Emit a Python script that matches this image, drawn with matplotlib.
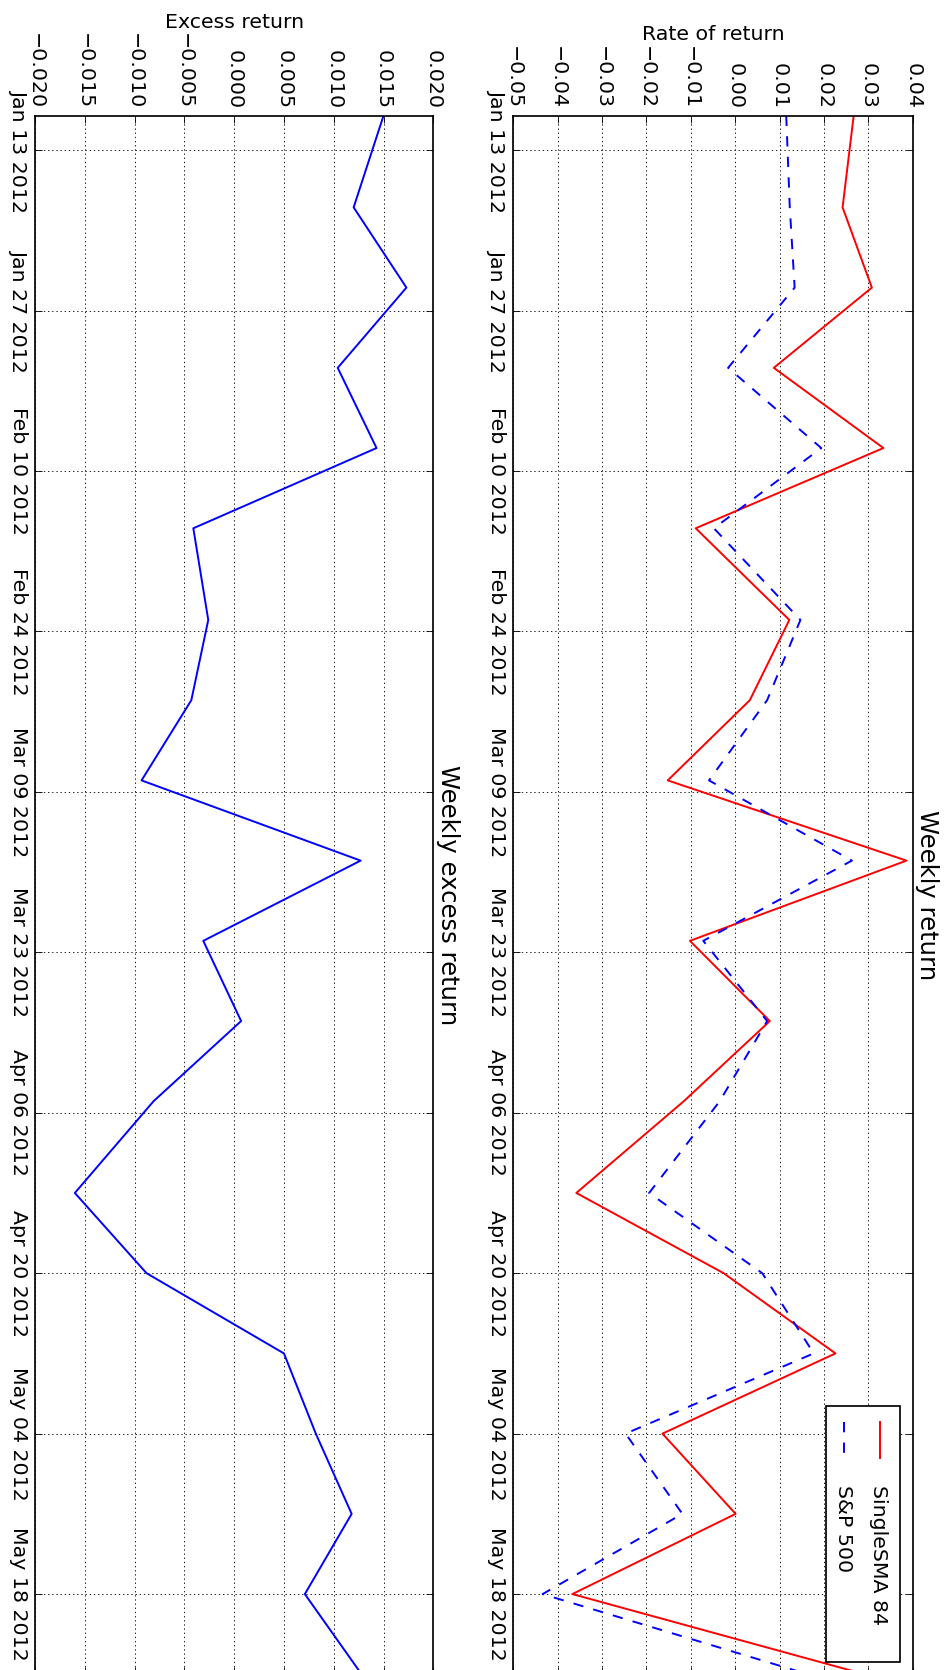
import matplotlib
matplotlib.use('Agg')
import matplotlib.pyplot as plt
import matplotlib.dates as mdates
import matplotlib.ticker as mticker
from matplotlib.patches import Rectangle
from matplotlib.lines import Line2D
import pandas as pd

# ---------------- data ----------------
dates = pd.to_datetime([
    '2012-01-10', '2012-01-18', '2012-01-25', '2012-02-01', '2012-02-08',
    '2012-02-15', '2012-02-23', '2012-03-01', '2012-03-08', '2012-03-15',
    '2012-03-22', '2012-03-29', '2012-04-05', '2012-04-13', '2012-04-20',
    '2012-04-27', '2012-05-04', '2012-05-11', '2012-05-18', '2012-05-25'])

strategy_returns = [0.0267, 0.0242, 0.0308, 0.0087, 0.0334,
                    -0.0089, 0.0122, 0.0033, -0.0152, 0.0386,
                    -0.0102, 0.0078, -0.0116, -0.0358, -0.0026,
                    0.0226, -0.0164, 0.0001, -0.0367, 0.0292]

sp500_returns = [0.0115, 0.0123, 0.0134, -0.0016, 0.0194,
                 -0.0048, 0.0147, 0.0072, -0.0059, 0.0263,
                 -0.0072, 0.0072, -0.0035, -0.0194, 0.0061,
                 0.0177, -0.0247, -0.0119, -0.0434, 0.0164]

excess_returns = [0.0150, 0.0120, 0.0173, 0.0104, 0.0143,
                  -0.0041, -0.0026, -0.0043, -0.0093, 0.0127,
                  -0.0031, 0.0007, -0.0081, -0.0160, -0.0088,
                  0.0050, 0.0082, 0.0118, 0.0071, 0.0128]

series_labels = ['SingleSMA 84', 'S&P 500']
date_ticks = pd.to_datetime(['2012-01-13', '2012-01-27', '2012-02-10', '2012-02-24',
                             '2012-03-09', '2012-03-23', '2012-04-06', '2012-04-20',
                             '2012-05-04', '2012-05-18'])
return_ticks = [-0.05, -0.04, -0.03, -0.02, -0.01, 0.00, 0.01, 0.02, 0.03, 0.04]
excess_ticks = [-0.020, -0.015, -0.010, -0.005, 0.000, 0.005, 0.010, 0.015, 0.020]

# ---------------- style ----------------
W, H = 945, 1670
S = 1.23  # scale factor (original rendered at ~123 dpi)
plt.rcParams.update({
    'font.family': ['DejaVu Sans'],
    'xtick.direction': 'in', 'ytick.direction': 'in',
    'xtick.top': True, 'xtick.bottom': True,
    'ytick.left': True, 'ytick.right': True,
    'xtick.major.size': 4 * S, 'ytick.major.size': 4 * S,
    'xtick.major.width': 0.5 * S, 'ytick.major.width': 0.5 * S,
    'xtick.major.pad': 4 * S, 'ytick.major.pad': 4 * S,
    'xtick.labelsize': 12 * S, 'ytick.labelsize': 12 * S,
    'axes.linewidth': 1.0 * S,
    'lines.scale_dashes': False,
    'figure.facecolor': 'white',
    'axes.facecolor': 'white',
})

TICK_FS = 12 * S
LABEL_FS = 12 * S
TITLE_FS = 14.2 * S
LW = 1.0 * S
DATA_LW = 1.4


def fx(x):
    return x / W


def fy(y):
    return 1 - y / H


fig = plt.figure(figsize=(W / 100, H / 100), dpi=100)

ax_top = 115.7
ax_bot = 1674.3
ax_h_px = ax_bot - ax_top

ax_ret = fig.add_axes([fx(513.3), fy(ax_bot), (912.7 - 513.3) / W, ax_h_px / H])
ax_exc = fig.add_axes([fx(35.0), fy(ax_bot), (433.3 - 35.0) / W, ax_h_px / H])

ynum = mdates.date2num(dates)


def fmt_factory(decimals):
    def f(v, pos):
        s = f'{v:.{decimals}f}'
        if s.startswith('-') and float(s) == 0:
            s = s[1:]
        return s.replace('-', '\u2212')
    return f


def setup(ax, ticks, decimals, xlabel, label_base_px, title, title_off):
    ax.set_ylim(ynum[-1], ynum[0])
    ax.set_xlim(ticks[0], ticks[-1])
    ax.xaxis.set_major_locator(mticker.FixedLocator(ticks))
    ax.xaxis.set_major_formatter(mticker.FuncFormatter(fmt_factory(decimals)))
    ax.yaxis.set_major_locator(mticker.FixedLocator(mdates.date2num(date_ticks)))
    ax.yaxis.set_major_formatter(mdates.DateFormatter('%b %d %Y'))
    ax.tick_params(axis='x', labeltop=True, labelbottom=False, labelrotation=270)
    ax.tick_params(axis='y', labelleft=True, labelright=False)
    plt.setp(ax.get_yticklabels(), rotation=270, va='center', ha='right')
    plt.setp(ax.get_xticklabels(), va='bottom', ha='center')
    ax.grid(True, color='k', linestyle=(0, (1, 2)), linewidth=0.6)
    ax.xaxis.set_label_position('top')
    ax.set_xlabel(xlabel, fontsize=LABEL_FS)
    ax.xaxis.label.set_va('baseline')
    ax.xaxis.set_label_coords(0.5, 1 + (ax_top - label_base_px) / ax_h_px)
    ax.annotate(title, xy=(1, 0.5), xycoords='axes fraction',
                xytext=(title_off, 0), textcoords='offset pixels',
                rotation=270, ha='left', va='center', fontsize=TITLE_FS)


ax_ret.plot(strategy_returns, ynum, color='r', lw=DATA_LW, label=series_labels[0])
ax_ret.plot(sp500_returns, ynum, color='b', lw=DATA_LW, dashes=(7.4, 7.4), label=series_labels[1])
setup(ax_ret, return_ticks, 2, 'Rate of return', 40.0, 'Weekly return', 2)

ax_exc.plot(excess_returns, ynum, color='b', lw=DATA_LW)
setup(ax_exc, excess_ticks, 3, 'Excess return', 28.3, 'Weekly excess return', 3)

# ---------------- legend (rotated, drawn manually) ----------------
box = Rectangle((fx(826), fy(1662)), (900 - 826) / W, (1662 - 1406) / H,
                transform=fig.transFigure, facecolor='white', edgecolor='black',
                linewidth=LW, zorder=5)
fig.add_artist(box)
fig.add_artist(Line2D([fx(880), fx(880)], [fy(1421.5), fy(1457.5)], color='r', lw=DATA_LW,
                      transform=fig.transFigure, zorder=6))
fig.add_artist(Line2D([fx(844.5), fx(844.5)], [fy(1421.5), fy(1457.5)], color='b', lw=DATA_LW,
                      dashes=(7.4, 7.4), transform=fig.transFigure, zorder=6))
fig.text(fx(873.3), fy(1485), series_labels[0], rotation=270, rotation_mode='anchor',
         ha='left', va='baseline', fontsize=LABEL_FS, zorder=7)
fig.text(fx(838.3), fy(1485), series_labels[1], rotation=270, rotation_mode='anchor',
         ha='left', va='baseline', fontsize=LABEL_FS, zorder=7)

fig.savefig('out.png', dpi=100)
